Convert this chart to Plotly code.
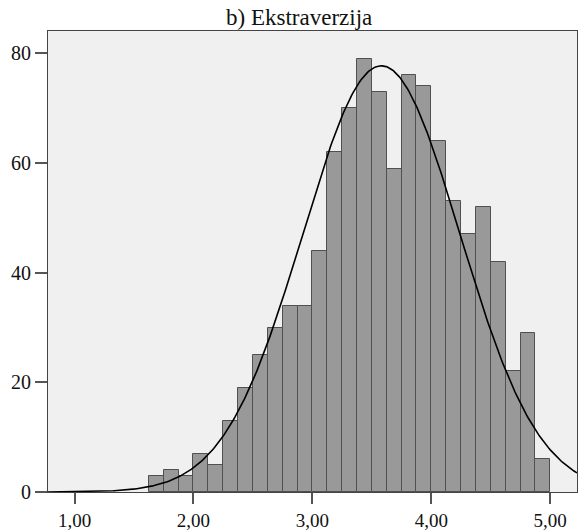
import numpy as np
import plotly.graph_objects as go

# Histogram bins (left edges) and counts
bin_width = 0.125
bin_left = [1.625 + 0.125 * i for i in range(27)]
counts = [3, 4, 3, 7, 5, 13, 19, 25, 30, 34, 34, 44, 62, 70, 79, 73, 59,
          76, 74, 64, 53, 47, 52, 42, 22, 29, 6]

# Fitted normal curve parameters
curve_mean = 3.58
curve_sd = 0.66
n_total = sum(counts)

x_tickvals = [1, 2, 3, 4, 5]
x_ticktext = ["1,00", "2,00", "3,00", "4,00", "5,00"]
y_tickvals = [0, 20, 40, 60, 80]
title_text = "b) Ekstraverzija"

x_range = [0.777, 5.225]
y_range = [0, 84.1]

centers = [b + bin_width / 2 for b in bin_left]
xs = np.linspace(x_range[0], x_range[1], 400)
ys = n_total * bin_width / (curve_sd * np.sqrt(2 * np.pi)) * np.exp(-0.5 * ((xs - curve_mean) / curve_sd) ** 2)

fig = go.Figure()
fig.add_trace(go.Bar(
    x=centers, y=counts, width=bin_width,
    marker=dict(color="#999999", line=dict(color="#505050", width=1)),
    showlegend=False, hoverinfo="x+y",
))
fig.add_trace(go.Scatter(
    x=xs, y=ys, mode="lines",
    line=dict(color="#000000", width=1.6),
    showlegend=False, hoverinfo="skip",
))

font_family = "Liberation Serif"
fig.update_layout(
    width=582, height=531,
    margin=dict(l=48, r=5, t=31, b=39, autoexpand=False),
    paper_bgcolor="#ffffff",
    plot_bgcolor="#f0f0f0",
    font=dict(family=font_family, size=20, color="#111111"),
    bargap=0,
    annotations=[dict(
        text=title_text, xref="paper", yref="paper",
        x=0.474, y=1, xanchor="center", yanchor="bottom",
        showarrow=False, font=dict(family=font_family, size=23, color="#111111"),
        yshift=-1,
    )],
)
fig.update_xaxes(
    range=x_range, tickvals=x_tickvals, ticktext=x_ticktext,
    showgrid=False, zeroline=False,
    showline=True, linecolor="#444444", linewidth=1, mirror=True,
    ticks="outside", ticklen=11, tickcolor="#555555", tickwidth=1.5,
    tickfont=dict(family=font_family, size=19, color="#111111"),
)
fig.update_yaxes(
    range=y_range, tickvals=y_tickvals,
    showgrid=False, zeroline=False,
    showline=True, linecolor="#444444", linewidth=1, mirror=True,
    ticks="outside", ticklen=12, tickcolor="#555555", tickwidth=1.5,
    tickfont=dict(family=font_family, size=20, color="#111111"),
)

fig.write_html(
    "out.html",
    config={"displayModeBar": False},
    post_script="document.body.style.margin='0';document.body.style.padding='0';document.body.style.overflow='hidden';",
)
